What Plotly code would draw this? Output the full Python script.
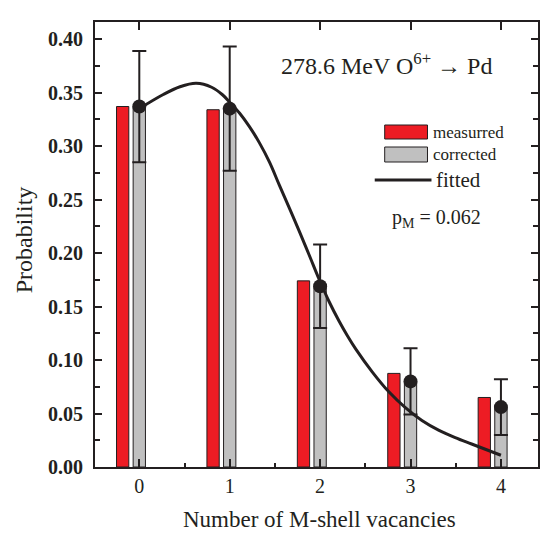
import plotly.graph_objects as go

# ---- data ----
vacancies = [0, 1, 2, 3, 4]
measured = [0.337, 0.334, 0.174, 0.0875, 0.065]
corrected = [0.337, 0.335, 0.169, 0.080, 0.056]
corrected_err = [0.052, 0.058, 0.039, 0.031, 0.026]
fit_x = [0.0, 0.26, 0.45, 0.63, 0.8, 0.92, 1.0, 1.108, 1.22, 1.329, 1.44, 1.549,
         1.66, 1.769, 1.88, 1.989, 2.1, 2.209, 2.3, 2.393, 2.576, 2.76, 2.943,
         3.126, 3.31, 3.494, 3.676, 4.0]
fit_y = [0.335, 0.348, 0.3555, 0.3587, 0.355, 0.348, 0.341, 0.331, 0.318, 0.303,
         0.285, 0.2635, 0.242, 0.2205, 0.198, 0.1755, 0.1545, 0.1365, 0.123, 0.1105,
         0.089, 0.0703, 0.0555, 0.0435, 0.0345, 0.0275, 0.0215, 0.011]

DARK = "#231f20"
RED = "#ed1c24"
GRAY = "#c0c0c0"
FONT = "Liberation Serif"

W, H = 548, 535
L, R, T, B = 95, 540, 22, 467


def px(x):
    return (x - L) / (R - L)


def py(y):
    return (B - y) / (B - T)


fig = go.Figure()
bw = 0.136
fig.add_trace(go.Bar(x=vacancies, y=measured, width=bw, offset=-0.184 - bw / 2,
                     marker=dict(color=RED, line=dict(color=DARK, width=1)),
                     showlegend=False, name="measurred"))
fig.add_trace(go.Bar(x=vacancies, y=corrected, width=bw, offset=-bw / 2,
                     marker=dict(color=GRAY, line=dict(color=DARK, width=1)),
                     showlegend=False, name="corrected"))
fig.add_trace(go.Scatter(x=fit_x, y=fit_y, mode="lines",
                         line=dict(color=DARK, width=3, shape="spline", smoothing=1.0),
                         showlegend=False, name="fitted"))
fig.add_trace(go.Scatter(x=vacancies, y=corrected, mode="markers",
                         marker=dict(color=DARK, size=14),
                         error_y=dict(type="data", array=corrected_err, visible=True,
                                      color=DARK, thickness=2, width=7),
                         showlegend=False))

fig.update_layout(
    width=W, height=H,
    margin=dict(l=L, r=W - R, t=T, b=H - B),
    paper_bgcolor="white", plot_bgcolor="white",
    barmode="overlay",
    font=dict(family=FONT, color=DARK),
    xaxis=dict(range=[-0.49, 4.41], tickvals=vacancies, ticks="inside", ticklen=8,
               tickwidth=1.5, tickcolor=DARK, showline=True, linecolor=DARK,
               linewidth=2, mirror=True, showgrid=False, zeroline=False,
               tickfont=dict(family=FONT, size=20, color=DARK),
               minor=dict(dtick=0.5, tick0=0.5, ticks="inside", ticklen=4,
                          tickwidth=1.5, tickcolor=DARK, showgrid=False)),
    xaxis2=dict(range=[-0.49, 4.41], overlaying="x", side="top", tickvals=vacancies,
                ticks="inside", ticklen=8, tickwidth=1.5, tickcolor=DARK,
                showticklabels=False, showgrid=False, zeroline=False, showline=False),
    yaxis=dict(range=[0, 0.416], dtick=0.05, tickformat=".2f", ticks="inside",
               ticklen=7, tickwidth=1.5, tickcolor=DARK, showline=True,
               linecolor=DARK, linewidth=2, mirror="ticks", showgrid=False,
               zeroline=False, ticklabelstandoff=6,
               tickfont=dict(family=FONT, size=20, color=DARK, weight="bold"),
               minor=dict(dtick=0.025, ticks="inside", ticklen=5, tickwidth=1.5,
                          tickcolor=DARK, showgrid=False)),
)
# dummy trace so top axis is drawn
fig.add_trace(go.Scatter(x=[None], y=[None], xaxis="x2", showlegend=False, hoverinfo="skip"))

# custom legend
fig.add_shape(type="rect", xref="paper", yref="paper", x0=px(386), x1=px(429),
              y0=py(139), y1=py(125), fillcolor=RED, line=dict(color=DARK, width=1))
fig.add_shape(type="rect", xref="paper", yref="paper", x0=px(386), x1=px(429),
              y0=py(162), y1=py(147), fillcolor=GRAY, line=dict(color=DARK, width=1))
fig.add_shape(type="line", xref="paper", yref="paper", x0=px(376), x1=px(433),
              y0=py(180), y1=py(180), line=dict(color=DARK, width=3))

def ann(text, x, y, size, xanchor="left", angle=0):
    fig.add_annotation(text=text, xref="paper", yref="paper", x=px(x), y=py(y),
                       xanchor=xanchor, yanchor="middle", showarrow=False,
                       textangle=angle,
                       font=dict(family=FONT, size=size, color=DARK))

ann("measurred", 433, 132, 17)
ann("corrected", 433, 154, 17)
ann("fitted", 436, 180, 21)
ann("p<sub>M</sub> = 0.062", 391, 218, 20)
ann("278.6 MeV O<sup>6+</sup> → Pd", 280, 64, 24)
# axis titles
ann("Number of M-shell vacancies", 321, 519, 23, xanchor="center")
ann("Probability", 24, 240, 24, xanchor="center", angle=-90)

fig.write_html("out.html")
